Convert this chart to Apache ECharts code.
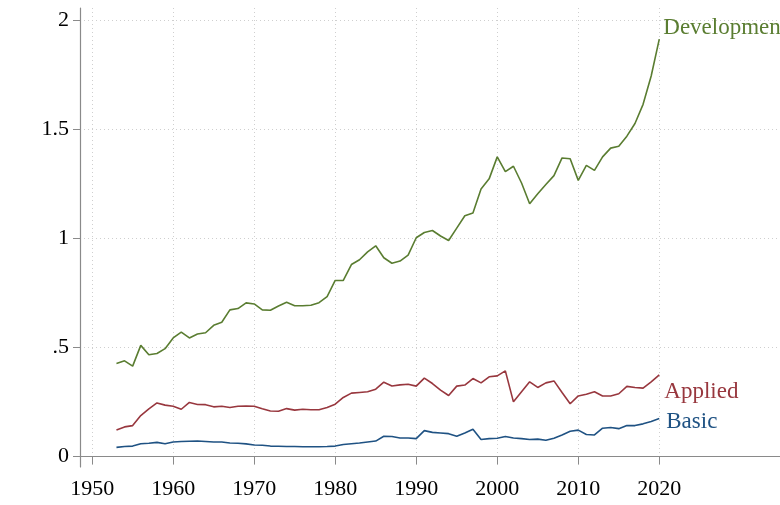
<!DOCTYPE html>
<html lang="en">
<head>
 <meta charset="UTF-8">
 <title>R&D shares</title>
 <style>html,body{margin:0;padding:0;background:#fff;}</style>
</head>
<body>
 <div id="main" style="width: 780px;height:505px;"></div>
 <script src="https://cdn.jsdelivr.net/npm/echarts@6/dist/echarts.min.js"></script>
 <script type="text/javascript">

var years = [];
for (var y = 1953; y <= 2020; y++) years.push(y);

var development = [
 0.426, 0.438, 0.414, 0.509, 0.466, 0.472, 0.494, 0.543, 0.570, 0.543,
 0.561, 0.567, 0.601, 0.615, 0.672, 0.678, 0.704, 0.699, 0.672, 0.670,
 0.690, 0.707, 0.691, 0.691, 0.693, 0.705, 0.733, 0.807, 0.807, 0.880,
 0.902, 0.938, 0.966, 0.911, 0.886, 0.896, 0.923, 1.003, 1.027, 1.036,
 1.011, 0.990, 1.047, 1.104, 1.116, 1.227, 1.273, 1.374, 1.306, 1.331,
 1.254, 1.159, 1.205, 1.247, 1.288, 1.369, 1.365, 1.266, 1.335, 1.312,
 1.374, 1.414, 1.423, 1.469, 1.527, 1.615, 1.745, 1.914
];
var applied = [
 0.121, 0.135, 0.141, 0.187, 0.218, 0.245, 0.235, 0.230, 0.216, 0.247,
 0.238, 0.237, 0.227, 0.230, 0.224, 0.230, 0.231, 0.230, 0.218, 0.208,
 0.207, 0.219, 0.212, 0.216, 0.214, 0.214, 0.224, 0.239, 0.270, 0.290,
 0.293, 0.296, 0.308, 0.340, 0.323, 0.328, 0.331, 0.322, 0.359, 0.334,
 0.304, 0.279, 0.322, 0.327, 0.357, 0.337, 0.365, 0.369, 0.392, 0.250,
 0.296, 0.342, 0.316, 0.337, 0.346, 0.293, 0.241, 0.277, 0.285, 0.296,
 0.277, 0.277, 0.287, 0.321, 0.316, 0.313, 0.342, 0.374
];
var basic = [
 0.041, 0.045, 0.047, 0.058, 0.060, 0.064, 0.058, 0.066, 0.068, 0.069,
 0.070, 0.068, 0.066, 0.066, 0.061, 0.060, 0.057, 0.052, 0.051, 0.047,
 0.046, 0.045, 0.045, 0.044, 0.044, 0.044, 0.045, 0.047, 0.054, 0.058,
 0.061, 0.066, 0.070, 0.092, 0.091, 0.084, 0.084, 0.081, 0.118, 0.110,
 0.107, 0.104, 0.092, 0.107, 0.124, 0.077, 0.081, 0.083, 0.091, 0.084,
 0.081, 0.077, 0.079, 0.074, 0.083, 0.098, 0.115, 0.120, 0.100, 0.098,
 0.129, 0.132, 0.127, 0.141, 0.141, 0.149, 0.160, 0.173
];

var xTicks = [1950, 1960, 1970, 1980, 1990, 2000, 2010, 2020];
var yTicks = [0, 0.5, 1, 1.5, 2];
var yTickLabels = ['0', '.5', '1', '1.5', '2'];

function pairs(vals) {
    return vals.map(function (v, i) { return [years[i], v]; });
}

var font = '"Liberation Serif", "Times New Roman", serif';
var gridLine = { show: true, lineStyle: { color: '#cfcfcf', width: 1, type: [1, 3] } };

var myChart = echarts.init(document.getElementById('main'));

function lineSeries(name, data, color, offset) {
    return {
        name: name,
        type: 'line',
        data: pairs(data),
        symbol: 'none',
        animation: false,
        lineStyle: { color: color, width: 1.6 },
        itemStyle: { color: color },
        endLabel: {
            show: true,
            formatter: '{a}',
            color: color,
            fontFamily: font,
            fontSize: 23,
            distance: 4,
            offset: offset
        }
    };
}

myChart.setOption({
    backgroundColor: '#fff',
    animation: false,
    grid: { left: 80, right: 0, top: 8, bottom: 38 },
    xAxis: {
        type: 'value',
        min: 1948.5,
        max: 2034.9,
        axisLine: { show: true, lineStyle: { color: '#8a8a8a', width: 1.2 } },
        axisTick: { show: true, length: 8, lineStyle: { color: '#8a8a8a' }, customValues: xTicks },
        axisLabel: {
            color: '#000', fontFamily: font, fontSize: 22, margin: 11,
            customValues: xTicks,
            formatter: function (v) { return String(v); }
        },
        splitLine: gridLine
    },
    yAxis: {
        type: 'value',
        min: -0.049,
        max: 2.057,
        axisLine: { show: true, lineStyle: { color: '#8a8a8a', width: 1.2 } },
        axisTick: { show: true, length: 7, lineStyle: { color: '#8a8a8a' }, customValues: yTicks },
        axisLabel: {
            color: '#000', fontFamily: font, fontSize: 22, margin: 11,
            customValues: yTicks,
            formatter: function (v) { return yTickLabels[yTicks.indexOf(v)]; }
        },
        splitLine: gridLine
    },
    series: [
        lineSeries('Development', development, '#5a7d31', [0, -11]),
        lineSeries('Applied', applied, '#98373e', [1, 17]),
        lineSeries('Basic', basic, '#1f5283', [3, 3])
    ]
});
 </script>
</body>
</html>
